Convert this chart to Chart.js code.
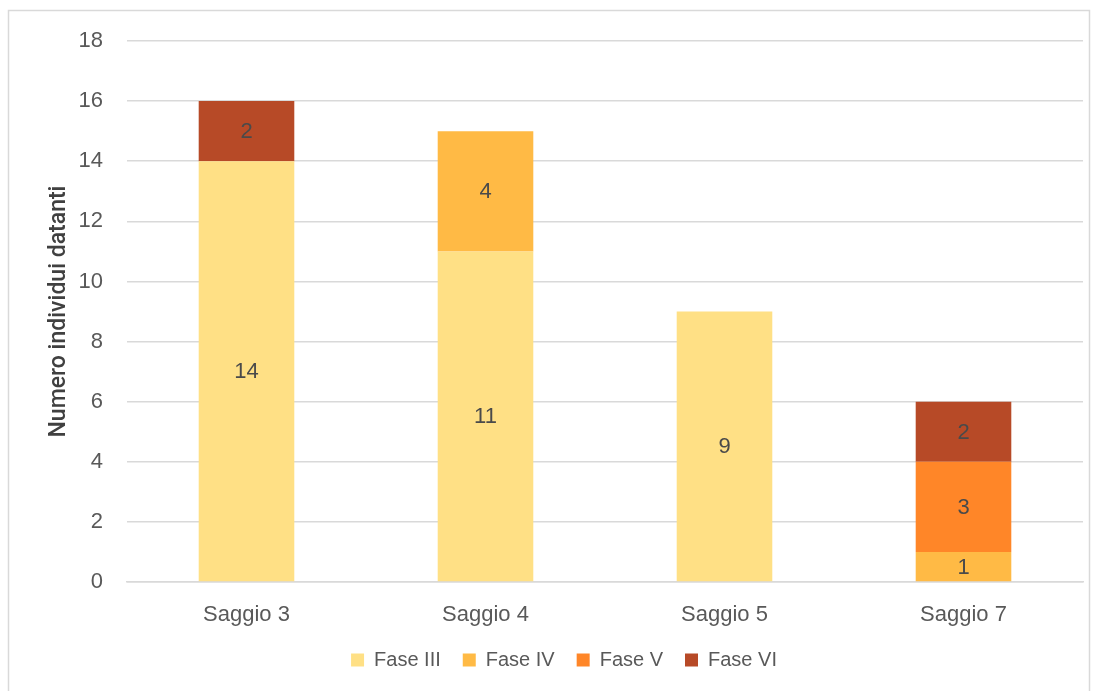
<!DOCTYPE html>
<html>
<head>
<meta charset="utf-8">
<script src="https://cdn.jsdelivr.net/npm/chart.js@4"></script>
<style>
html,body{margin:0;padding:0;background:#fff;}
#wrap{position:absolute;left:0;top:0;width:1097px;height:691px;}
</style>
</head>
<body>
<div id="wrap"><canvas id="c" width="1097" height="691"></canvas></div>
<script>
const categories = ["Saggio 3", "Saggio 4", "Saggio 5", "Saggio 7"];
const faseIII = [14, 11, 9, 0];
const faseIV  = [0, 4, 0, 1];
const faseV   = [0, 0, 0, 3];
const faseVI  = [2, 0, 0, 2];
const seriesNames = ["Fase III", "Fase IV", "Fase V", "Fase VI"];
const seriesColors = ["#FFE085", "#FFBA45", "#FF8628", "#B74A27"];
const yTicks = [0, 2, 4, 6, 8, 10, 12, 14, 16, 18];

const FONT = "'Liberation Sans', Arial, sans-serif";
const TXT = "#595959";

const borderPlugin = {
  id: 'outerBorder',
  beforeDraw(chart) {
    const ctx = chart.ctx;
    ctx.save();
    ctx.strokeStyle = "#D9D9D9";
    ctx.lineWidth = 1.5;
    ctx.strokeRect(8.5, 10.5, 1081, 700);
    ctx.restore();
  }
};

const labelPlugin = {
  id: 'valueLabels',
  afterDatasetsDraw(chart) {
    const ctx = chart.ctx;
    ctx.save();
    ctx.font = "22px " + FONT;
    ctx.fillStyle = "#4A4A4A";
    ctx.textAlign = "center";
    ctx.textBaseline = "middle";
    chart.data.datasets.forEach((ds, i) => {
      const meta = chart.getDatasetMeta(i);
      meta.data.forEach((el, j) => {
        const v = ds.data[j];
        if (!v) return;
        const y = (el.y + el.base) / 2;
        ctx.fillText(String(v), el.x, y + 1);
      });
    });
    ctx.restore();
  }
};

const data = [faseIII, faseIV, faseV, faseVI];

new Chart(document.getElementById('c'), {
  type: 'bar',
  data: {
    labels: categories,
    datasets: seriesNames.map((n, i) => ({
      label: n,
      data: data[i],
      backgroundColor: seriesColors[i],
      borderWidth: 0,
      categoryPercentage: 1.0,
      barPercentage: 0.4
    }))
  },
  options: {
    responsive: false,
    animation: false,
    devicePixelRatio: 1,
    layout: { padding: { left: 45, right: 14, top: 41, bottom: 11 } },
    plugins: {
      legend: {
        position: 'bottom',
        labels: {
          color: TXT,
          font: { family: FONT, size: 20 },
          boxWidth: 13,
          boxHeight: 13,
          padding: 22
        }
      },
      tooltip: { enabled: false }
    },
    scales: {
      x: {
        stacked: true,
        grid: { display: false },
        border: { display: true, color: "#D9D9D9", width: 1.5 },
        afterFit(scale) { scale.height = 46; },
        ticks: { color: TXT, font: { family: FONT, size: 22 }, padding: 12 }
      },
      y: {
        stacked: true,
        min: 0,
        max: 18,
        afterBuildTicks(scale) { scale.ticks = yTicks.map(v => ({ value: v })); },
        afterFit(scale) { scale.width = 82; },
        grid: { color: "#D9D9D9", lineWidth: 1.5, drawTicks: false },
        border: { display: false },
        ticks: { color: TXT, font: { family: FONT, size: 22 }, padding: 24 },
        title: {
          display: true,
          text: "Numero individui datanti",
          color: "#404040",
          font: { family: "Roboto, " + FONT, size: 23, weight: 500 },
          padding: { top: 0, bottom: 0 }
        }
      }
    }
  },
  plugins: [borderPlugin, labelPlugin]
});
</script>
</body>
</html>
